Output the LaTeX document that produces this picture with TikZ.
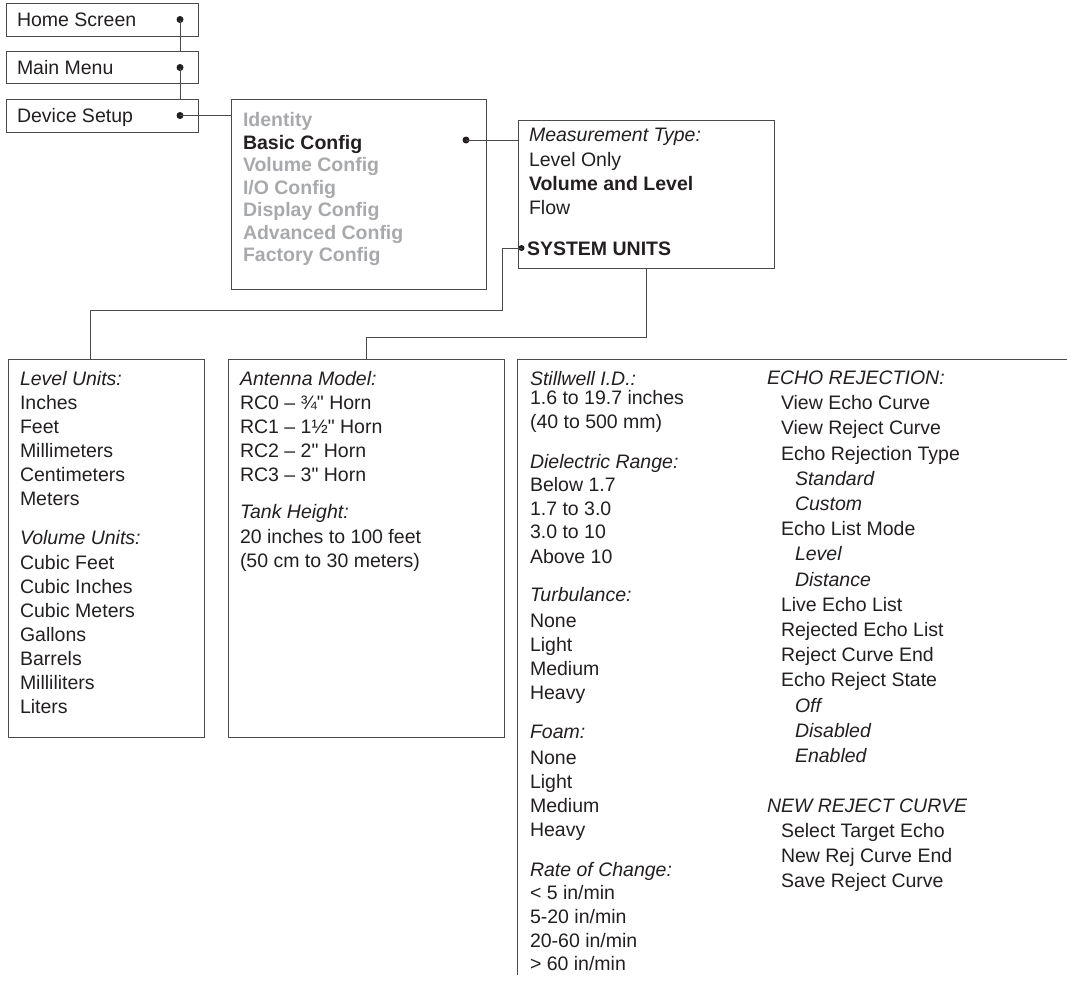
\documentclass[tikz,border=0pt]{standalone}
\usepackage{fontspec}
\setmainfont{Liberation Sans}[Ligatures=TeXOff]
\definecolor{boxc}{HTML}{4A4A4C}
\definecolor{txtc}{HTML}{231F20}
\definecolor{grayc}{HTML}{A7A9AC}
\newcommand\fsz{\fontsize{19.5}{23}\selectfont}
\tikzset{
  box/.style={draw=boxc, line width=1pt, inner sep=0pt, outer sep=0pt, anchor=north west},
  txt/.style={anchor=base west, inner sep=0pt, outer sep=0pt, font=\fsz, text=txtc},
  hd/.style={txt, font=\fsz\itshape},
  gr/.style={txt, font=\fsz\bfseries, text=grayc},
  bd/.style={txt, font=\fsz\bfseries},
  sub/.style={txt, font=\fsz\itshape},
  dotn/.style={circle, fill=txtc, inner sep=0pt, outer sep=0pt, minimum size=7pt},
  conn/.style={draw=boxc, line width=1pt}
}
\begin{document}
\begin{tikzpicture}[x=1pt,y=-1pt]
\useasboundingbox (0,0) rectangle (1067,986);
% top menu boxes
\node[box, minimum width=192pt, minimum height=33pt] (home) at (6,3) {};
\node[box, minimum width=192pt, minimum height=32pt] (main) at (6,51.5) {};
\node[box, minimum width=192pt, minimum height=32.5pt] (dev) at (6,99.5) {};
\node[txt] (homet) at (17,26.5) {Home Screen};
\node[txt] (maint) at (17,74.5) {Main Menu};
\node[txt] (devt) at (17,122.5) {Device Setup};
\node[dotn] (hdot) at (180,19.5) {};
\node[dotn] (mdot) at (180,67.5) {};
\node[dotn] (ddot) at (180,115.5) {};
% config box
\node[box, minimum width=255pt, minimum height=190pt] (cfg) at (231,99) {};
\node[gr] (c1) at (243,126.8) {Identity};
\node[bd] (c2) at (243,149.3) {Basic Config};
\node[gr] (c3) at (243,171.8) {Volume Config};
\node[gr] (c4) at (243,194.3) {I/O Config};
\node[gr] (c5) at (243,216.8) {Display Config};
\node[gr] (c6) at (243,239.3) {Advanced Config};
\node[gr] (c7) at (243,261.8) {Factory Config};
\node[dotn] (bdot) at (466,140) {};
% measurement box
\node[box, minimum width=256pt, minimum height=148pt] (meas) at (518,120) {};
\node[hd] (m1) at (529,141) {Measurement Type:};
\node[txt] (m2) at (529,166) {Level Only};
\node[bd] (m3) at (529,190) {Volume and Level};
\node[txt] (m4) at (529,214) {Flow};
\node[bd] (m5) at (527,255) {SYSTEM UNITS};
\node[dotn, minimum size=6pt] (sdot) at (521.5,248) {};
% connectors top
\draw[conn] (hdot.center) -- (hdot.center |- main.north);
\draw[conn] (mdot.center) -- (mdot.center |- dev.north);
\draw[conn] (ddot.center) -- (ddot.center -| cfg.west);
\draw[conn] (bdot.center) -- (bdot.center -| meas.west);
% lower boxes
\node[box, minimum width=196pt, minimum height=378pt] (lvl) at (8.5,359) {};
\node[box, minimum width=276pt, minimum height=378pt] (ant) at (228,359) {};
\coordinate (tb) at (517,975);
\coordinate (tt) at (517,359);
\coordinate (tr) at (1067,359);
\draw[conn] (tb) -- (tt) -- (tr);
\draw[conn] (sdot.center) -- (502,248) |- (90,310) -- ([xshift=81.5pt]lvl.north west);
\draw[conn] ([xshift=128pt]meas.south west) |- (366,337) -- ([xshift=138pt]ant.north west);
% level box text
\node[hd] (l1) at (20,385) {Level Units:};
\node[txt] (l2) at (20,409) {Inches};
\node[txt] (l3) at (20,433) {Feet};
\node[txt] (l4) at (20,457) {Millimeters};
\node[txt] (l5) at (20,481) {Centimeters};
\node[txt] (l6) at (20,505) {Meters};
\node[hd] (l7) at (20,544) {Volume Units:};
\node[txt] (l8) at (20,569) {Cubic Feet};
\node[txt] (l9) at (20,593) {Cubic Inches};
\node[txt] (l10) at (20,617) {Cubic Meters};
\node[txt] (l11) at (20,641) {Gallons};
\node[txt] (l12) at (20,665) {Barrels};
\node[txt] (l13) at (20,689) {Milliliters};
\node[txt] (l14) at (20,713) {Liters};
% antenna box text
\node[hd] (a1) at (240,385) {Antenna Model:};
\node[txt] (a2) at (240,409) {RC0 – ¾" Horn};
\node[txt] (a3) at (240,433) {RC1 – 1½" Horn};
\node[txt] (a4) at (240,457) {RC2 – 2" Horn};
\node[txt] (a5) at (240,481) {RC3 – 3" Horn};
\node[hd] (a6) at (240,518) {Tank Height:};
\node[txt] (a7) at (240,543) {20 inches to 100 feet};
\node[txt] (a8) at (240,567) {(50 cm to 30 meters)};
% third box, column 1
\node[hd] (s1) at (530,385) {Stillwell I.D.:};
\node[txt] (s2) at (530,404) {1.6 to 19.7 inches};
\node[txt] (s3) at (530,428) {(40 to 500 mm)};
\node[hd] (s4) at (530,468) {Dielectric Range:};
\node[txt] (s5) at (530,491) {Below 1.7};
\node[txt] (s6) at (530,515) {1.7 to 3.0};
\node[txt] (s7) at (530,538) {3.0 to 10};
\node[txt] (s8) at (530,563) {Above 10};
\node[hd] (s9) at (530,601) {Turbulance:};
\node[txt] (s10) at (530,627) {None};
\node[txt] (s11) at (530,651) {Light};
\node[txt] (s12) at (530,675) {Medium};
\node[txt] (s13) at (530,699) {Heavy};
\node[hd] (s14) at (530,738) {Foam:};
\node[txt] (s15) at (530,764) {None};
\node[txt] (s16) at (530,788) {Light};
\node[txt] (s17) at (530,812) {Medium};
\node[txt] (s18) at (530,836) {Heavy};
\node[hd] (s19) at (530,876) {Rate of Change:};
\node[txt] (s20) at (530,899) {< 5 in/min};
\node[txt] (s21) at (530,923) {5-20 in/min};
\node[txt] (s22) at (530,947) {20-60 in/min};
\node[txt] (s23) at (530,970) {> 60 in/min};
% third box, column 2
\node[hd] (e1) at (767,384) {ECHO REJECTION:};
\node[txt] (e2) at (781,409) {View Echo Curve};
\node[txt] (e3) at (781,434) {View Reject Curve};
\node[txt] (e4) at (781,460) {Echo Rejection Type};
\node[sub] (e5) at (795,485) {Standard};
\node[sub] (e6) at (795,510) {Custom};
\node[txt] (e7) at (781,535) {Echo List Mode};
\node[sub] (e8) at (795,560) {Level};
\node[sub] (e9) at (795,586) {Distance};
\node[txt] (e10) at (781,611) {Live Echo List};
\node[txt] (e11) at (781,636) {Rejected Echo List};
\node[txt] (e12) at (781,661) {Reject Curve End};
\node[txt] (e13) at (781,686) {Echo Reject State};
\node[sub] (e14) at (795,712) {Off};
\node[sub] (e15) at (795,737) {Disabled};
\node[sub] (e16) at (795,762) {Enabled};
\node[hd] (e17) at (767,812) {NEW REJECT CURVE};
\node[txt] (e18) at (781,837) {Select Target Echo};
\node[txt] (e19) at (781,862) {New Rej Curve End};
\node[txt] (e20) at (781,887) {Save Reject Curve};
\end{tikzpicture}
\end{document}
